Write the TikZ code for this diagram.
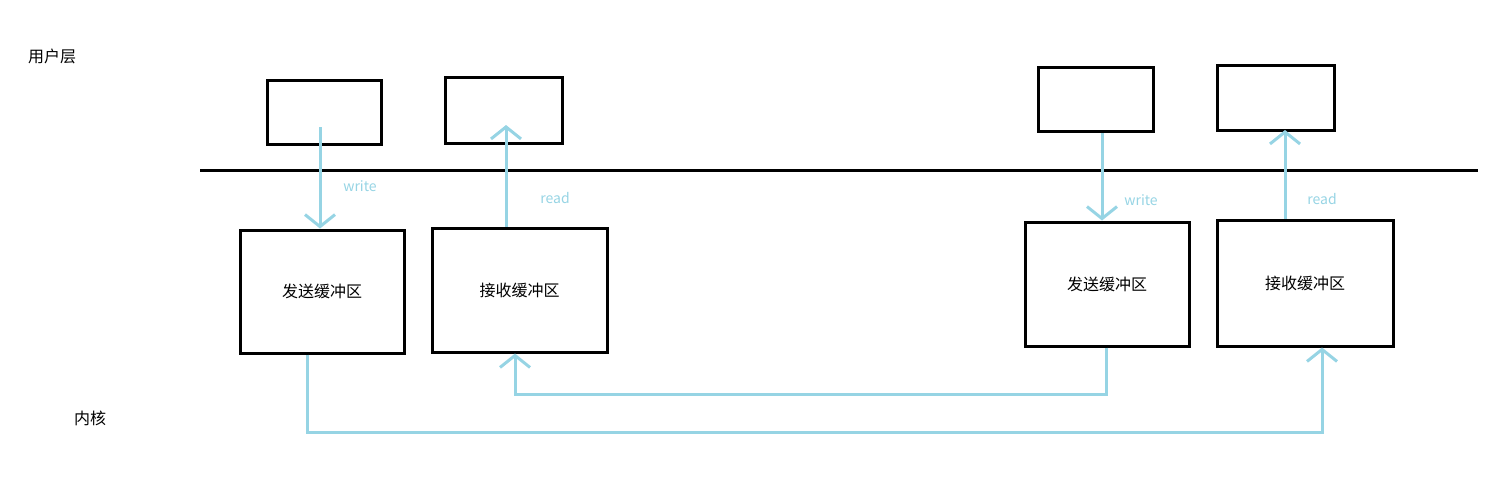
\documentclass[tikz,border=0pt]{standalone}
\usepackage{fontspec}
\setmainfont{Noto Sans CJK SC}
\usetikzlibrary{arrows.meta}
\definecolor{lb}{RGB}{150,212,228}
\begin{document}
\begin{tikzpicture}[x=1pt,y=-1pt,
  box/.style={draw=black,line width=3pt},
  conn/.style={draw=lb,line width=3pt,-{Straight Barb[length=12pt,width=30pt,line width=3pt]}},
  lab/.style={text=lb,font=\fontsize{14}{14}\selectfont},
  cjk/.style={font=\fontsize{16}{16}\selectfont}]
\useasboundingbox (0,0) rectangle (1501,491);
\node[box,minimum width=114,minimum height=64] (u1) at (324,112) {};
\node[box,minimum width=117,minimum height=66] (u2) at (503.5,110) {};
\node[box,minimum width=115,minimum height=64] (u3) at (1095.5,99) {};
\node[box,minimum width=117,minimum height=65] (u4) at (1275.5,97.5) {};
\draw[line width=3pt] (200,170) coordinate (l1) -- (1478,170) coordinate (l2);
\node[box,cjk,minimum width=164,minimum height=123] (k1) at (322,291.5) {发送缓冲区};
\node[box,cjk,minimum width=175,minimum height=124] (k2) at (519.5,290) {接收缓冲区};
\node[box,cjk,minimum width=164,minimum height=124] (k3) at (1107,284) {发送缓冲区};
\node[box,cjk,minimum width=176,minimum height=126] (k4) at (1305,283) {接收缓冲区};
\node[cjk] (t1) at (52,56) {用户层};
\node[cjk] (t2) at (90,418) {内核};
\draw[conn] (320,127) -- (k1.north -| 320,0);
\draw[conn] (k2.north -| 506,0) -- (506,125);
\draw[conn] (1102,133) -- (k3.north -| 1102,0);
\draw[conn] (k4.north -| 1285,0) -- (1285,130);
\node[lab] (w1) at (360,186) {write};
\node[lab] (r1) at (555,198) {read};
\node[lab] (w2) at (1141,200) {write};
\node[lab] (r2) at (1322,199) {read};
\draw[conn] (k1.south -| 307,0) -- (307,432) -- (1322,432) -- (k4.south -| 1322,0);
\draw[conn] (k3.south -| 1106,0) -- (1106,394) -- (515,394) -- (k2.south -| 515,0);
\end{tikzpicture}
\end{document}
